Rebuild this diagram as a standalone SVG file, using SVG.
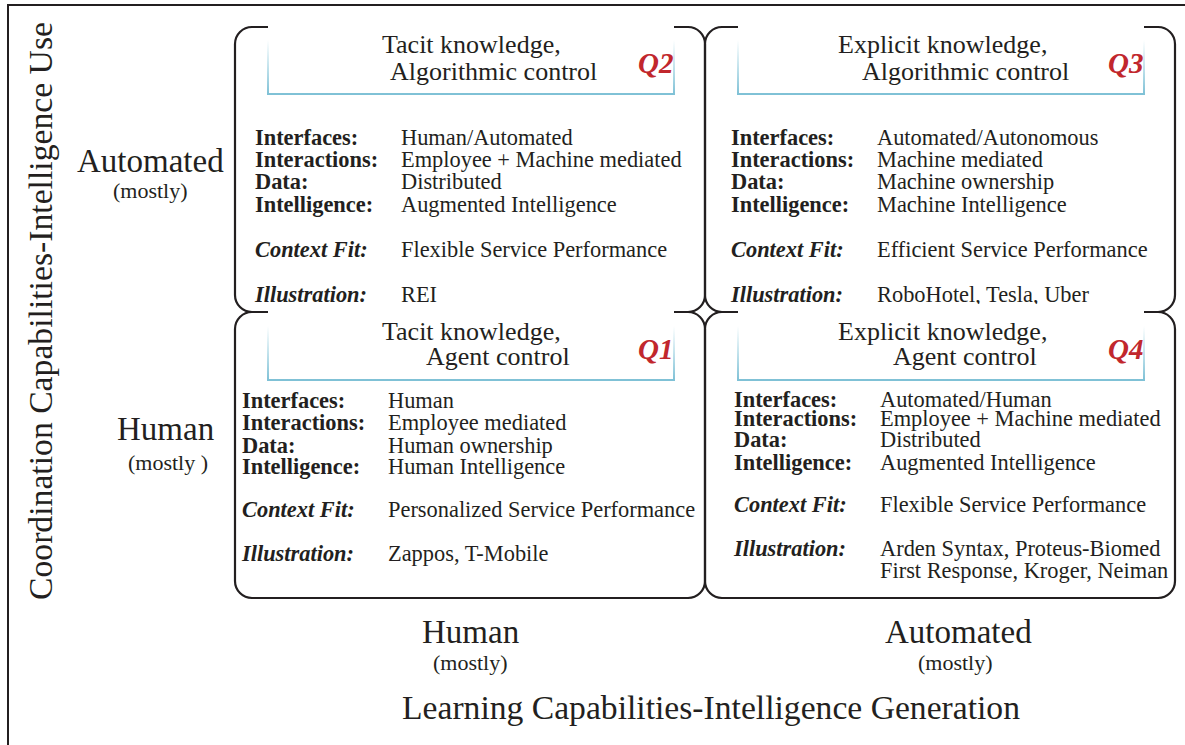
<svg xmlns="http://www.w3.org/2000/svg" width="1185" height="745" viewBox="0 0 1185 745">
  <defs>
    <linearGradient id="hdrEdge" x1="0" y1="0" x2="0" y2="1">
      <stop offset="0" stop-color="#8ccbdd" stop-opacity="0"/>
      <stop offset="1" stop-color="#7fc1d6" stop-opacity="1"/>
    </linearGradient>
    <style>
      text { font-family: "Liberation Serif", "Times New Roman", serif; fill: #231f20; }
      .box { fill: none; stroke: #231f20; stroke-width: 2.2; }
      .hdr-bg { fill: #ffffff; stroke: none; }
      .hdr-edge { fill: none; stroke: url(#hdrEdge); stroke-width: 2; }
      .title { font-size: 26px; }
      .q { font-size: 29px; font-weight: bold; font-style: italic; fill: #c1272d; }
      .lbl { font-size: 22.4px; font-weight: bold; }
      .lbl-i { font-size: 22.4px; font-weight: bold; font-style: italic; }
      .val { font-size: 22.4px; }
      .axis { font-size: 33px; }
      .axis-sub { font-size: 22px; }
    </style>
  </defs>

  <rect width="1185" height="745" fill="#ffffff"/>

  <!-- outer frame -->
  <path d="M8,745 V5 H1185" fill="none" stroke="#231f20" stroke-width="2"/>

  <!-- quadrant outlines (shared edges between the four cells) -->
  <g id="connectors">
    <rect class="box" x="235" y="27" width="470" height="285" rx="17"/>
    <rect class="box" x="705" y="27" width="470" height="285" rx="17"/>
    <rect class="box" x="235" y="312" width="470" height="286" rx="17"/>
    <rect class="box" x="705" y="312" width="470" height="286" rx="17"/>
  </g>

  <!-- Q2: top-left -->
  <g id="q2">
    <rect class="hdr-bg" x="268" y="18" width="406" height="76"/>
    <path class="hdr-edge" d="M268,40 V94 H674 V40"/>
    <text class="title" x="382" y="53">Tacit knowledge,</text>
    <text class="title" x="390" y="80">Algorithmic control</text>
    <text class="q" x="638" y="73">Q2</text>
    <text class="lbl" x="255" y="145">Interfaces:</text>
    <text class="lbl" x="255" y="167">Interactions:</text>
    <text class="lbl" x="255" y="189">Data:</text>
    <text class="lbl" x="255" y="212">Intelligence:</text>
    <text class="lbl-i" x="255" y="257">Context Fit:</text>
    <text class="lbl-i" x="255" y="302">Illustration:</text>
    <text class="val" x="401" y="145">Human/Automated</text>
    <text class="val" x="401" y="167">Employee + Machine mediated</text>
    <text class="val" x="401" y="189">Distributed</text>
    <text class="val" x="401" y="212">Augmented Intelligence</text>
    <text class="val" x="401" y="257">Flexible Service Performance</text>
    <text class="val" x="401" y="302">REI</text>
  </g>

  <!-- Q3: top-right -->
  <g id="q3">
    <rect class="hdr-bg" x="738" y="18" width="406" height="76"/>
    <path class="hdr-edge" d="M738,40 V94 H1144 V40"/>
    <text class="title" x="838" y="53">Explicit knowledge,</text>
    <text class="title" x="862" y="80">Algorithmic control</text>
    <text class="q" x="1108" y="73">Q3</text>
    <text class="lbl" x="731" y="145">Interfaces:</text>
    <text class="lbl" x="731" y="167">Interactions:</text>
    <text class="lbl" x="731" y="189">Data:</text>
    <text class="lbl" x="731" y="212">Intelligence:</text>
    <text class="lbl-i" x="731" y="257">Context Fit:</text>
    <text class="lbl-i" x="731" y="302">Illustration:</text>
    <text class="val" x="877" y="145">Automated/Autonomous</text>
    <text class="val" x="877" y="167">Machine mediated</text>
    <text class="val" x="877" y="189">Machine ownership</text>
    <text class="val" x="877" y="212">Machine Intelligence</text>
    <text class="val" x="877" y="257">Efficient Service Performance</text>
    <text class="val" x="877" y="302">RoboHotel, Tesla, Uber</text>
  </g>

  <!-- Q1: bottom-left -->
  <g id="q1">
    <rect class="hdr-bg" x="268" y="304" width="406" height="76"/>
    <path class="hdr-edge" d="M268,326 V380 H674 V326"/>
    <text class="title" x="382" y="340">Tacit knowledge,</text>
    <text class="title" x="426" y="365">Agent control</text>
    <text class="q" x="638" y="359">Q1</text>
    <text class="lbl" x="242" y="408">Interfaces:</text>
    <text class="lbl" x="242" y="430">Interactions:</text>
    <text class="lbl" x="242" y="453">Data:</text>
    <text class="lbl" x="242" y="474">Intelligence:</text>
    <text class="lbl-i" x="242" y="517">Context Fit:</text>
    <text class="lbl-i" x="242" y="561">Illustration:</text>
    <text class="val" x="388" y="408">Human</text>
    <text class="val" x="388" y="430">Employee mediated</text>
    <text class="val" x="388" y="453">Human ownership</text>
    <text class="val" x="388" y="474">Human Intelligence</text>
    <text class="val" x="388" y="517">Personalized Service Performance</text>
    <text class="val" x="388" y="561">Zappos, T-Mobile</text>
  </g>

  <!-- Q4: bottom-right -->
  <g id="q4">
    <rect class="hdr-bg" x="738" y="304" width="406" height="76"/>
    <path class="hdr-edge" d="M738,326 V380 H1144 V326"/>
    <text class="title" x="838" y="340">Explicit knowledge,</text>
    <text class="title" x="893" y="365">Agent control</text>
    <text class="q" x="1108" y="359">Q4</text>
    <text class="lbl" x="734" y="407">Interfaces:</text>
    <text class="lbl" x="734" y="426">Interactions:</text>
    <text class="lbl" x="734" y="447">Data:</text>
    <text class="lbl" x="734" y="470">Intelligence:</text>
    <text class="lbl-i" x="734" y="512">Context Fit:</text>
    <text class="lbl-i" x="734" y="556">Illustration:</text>
    <text class="val" x="880" y="407">Automated/Human</text>
    <text class="val" x="880" y="426">Employee + Machine mediated</text>
    <text class="val" x="880" y="447">Distributed</text>
    <text class="val" x="880" y="470">Augmented Intelligence</text>
    <text class="val" x="880" y="512">Flexible Service Performance</text>
    <text class="val" x="880" y="556">Arden Syntax, Proteus-Biomed</text>
    <text class="val" x="880" y="578">First Response, Kroger, Neiman</text>
  </g>

  <!-- vertical axis -->
  <g id="axis-y">
    <text class="axis" transform="translate(52,600) rotate(-90)" x="0" y="0" textLength="578" lengthAdjust="spacingAndGlyphs">Coordination Capabilities-Intelligence Use</text>
    <text class="axis" x="77" y="172">Automated</text>
    <text class="axis-sub" x="113" y="198">(mostly)</text>
    <text class="axis" x="117" y="440">Human</text>
    <text class="axis-sub" x="128" y="470">(mostly )</text>
  </g>

  <!-- horizontal axis -->
  <g id="axis-x">
    <text class="axis" x="422" y="643">Human</text>
    <text class="axis-sub" x="433" y="670">(mostly)</text>
    <text class="axis" x="885" y="643">Automated</text>
    <text class="axis-sub" x="918" y="670">(mostly)</text>
    <text class="axis" x="402" y="719" textLength="618" lengthAdjust="spacingAndGlyphs">Learning Capabilities-Intelligence Generation</text>
  </g>
</svg>
